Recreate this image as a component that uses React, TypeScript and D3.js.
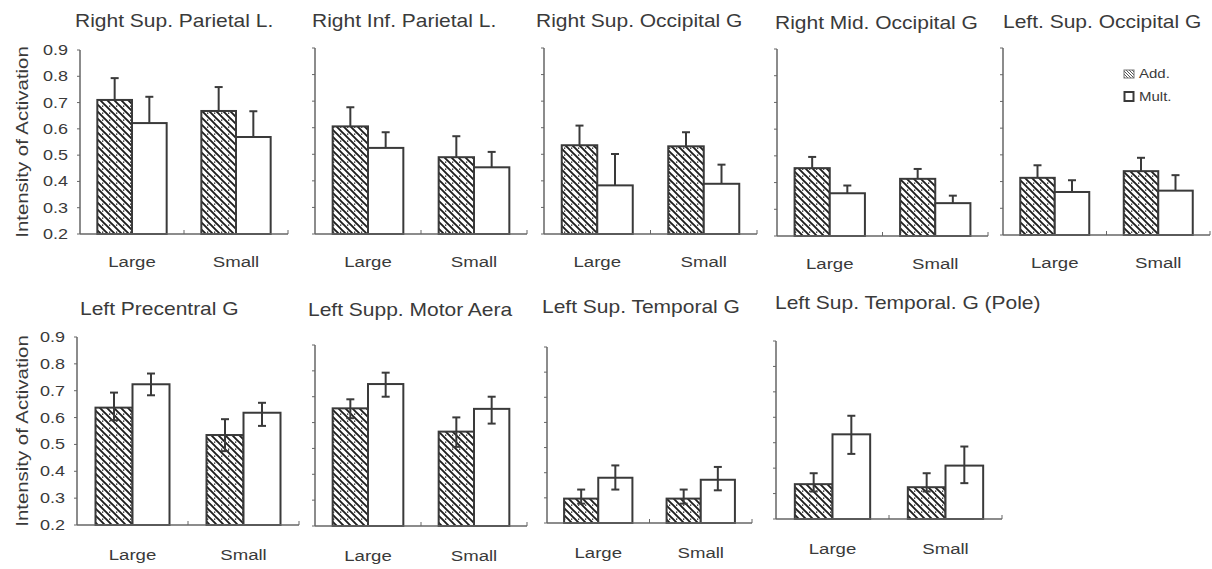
import * as d3 from 'd3';

const categories = ['Large', 'Small'];
const series = ['Add.', 'Mult.'];
const yTicks = [0.2, 0.3, 0.4, 0.5, 0.6, 0.7, 0.8, 0.9];
const yLabel = 'Intensity of Activation';

const regions = [
  'Right Sup. Parietal L.',
  'Right Inf. Parietal L.',
  'Right Sup. Occipital G',
  'Right Mid. Occipital G',
  'Left. Sup. Occipital G',
  'Left Precentral G',
  'Left Supp. Motor Aera',
  'Left Sup. Temporal G',
  'Left Sup. Temporal. G (Pole)',
];

// [Large, Small] for every region
const addMeans = [
  [0.71, 0.668], [0.605, 0.489], [0.534, 0.53], [0.454, 0.414], [0.414, 0.439],
  [0.637, 0.535], [0.655, 0.565], [0.297, 0.297], [0.337, 0.325],
];
const addUpper = [
  [0.793, 0.759], [0.677, 0.568], [0.608, 0.583], [0.496, 0.451], [0.461, 0.489],
  [0.693, 0.594], [0.69, 0.62], [0.333, 0.333], [0.38, 0.38],
];
const addLower = [
  null, null, null, null, null,
  [0.59, 0.475], [0.617, 0.506], [0.277, 0.277], [0.308, 0.308],
];
const multMeans = [
  [0.622, 0.569], [0.524, 0.451], [0.383, 0.389], [0.36, 0.323], [0.361, 0.366],
  [0.724, 0.618], [0.749, 0.653], [0.38, 0.372], [0.533, 0.41],
];
const multUpper = [
  [0.722, 0.667], [0.583, 0.509], [0.501, 0.461], [0.389, 0.351], [0.405, 0.424],
  [0.764, 0.655], [0.793, 0.7], [0.429, 0.423], [0.606, 0.485],
];
const multLower = [
  null, null, null, null, null,
  [0.683, 0.569], [0.7, 0.596], [0.333, 0.33], [0.456, 0.341],
];

// panel frames in page pixels
const frames = [
  { left: 80, right: 288, top: 50, base: 234, titleX: 75 },
  { left: 315, right: 527, top: 48, base: 234, titleX: 312 },
  { left: 544, right: 757, top: 48, base: 234, titleX: 536 },
  { left: 777, right: 988, top: 49, base: 236, titleX: 775 },
  { left: 1003, right: 1210, top: 48, base: 235, titleX: 1003 },
  { left: 77, right: 299, top: 337, base: 525, titleX: 80 },
  { left: 315, right: 527, top: 345, base: 526, titleX: 308 },
  { left: 547, right: 752, top: 347, base: 523, titleX: 542 },
  { left: 776, right: 1002, top: 341, base: 519, titleX: 775 },
];

const FONT = '"Liberation Sans", Arial, Helvetica, sans-serif';
const INK = '#3a3a3a';
const AXIS = '#666';
const SX = 1.2; // glyphs in the source are wider than Arial

const Panel = ({ i }: { i: number }) => {
  const f = frames[i];
  const y = d3.scaleLinear([0.2, 0.9], [f.base, f.top]);
  const x0 = d3.scaleBand(categories, [f.left, f.right]).paddingInner(0).paddingOuter(0);
  const x1 = d3.scaleBand(series, [0, x0.bandwidth()]).paddingInner(0).paddingOuter(0.5);
  const bottomRow = i >= 5;
  const titleY = f.base - (bottomRow ? 210 : 207);
  const showLabels = i === 0 || i === 5;

  const rows = categories.flatMap((c, ci) =>
    series.map((s, si) => {
      const mean = si === 0 ? addMeans[i][ci] : multMeans[i][ci];
      const hi = si === 0 ? addUpper[i][ci] : multUpper[i][ci];
      const loArr = si === 0 ? addLower[i] : multLower[i];
      const lo = loArr ? loArr[ci] : mean;
      return { c, s, si, mean, hi, lo, xb: (x0(c) ?? 0) + (x1(s) ?? 0) };
    })
  );
  const bw = x1.bandwidth();

  return (
    <g>
      <text
        transform={`translate(${f.titleX},${titleY}) scale(${SX},1)`}
        fontSize={17.5}
        fill={INK}
      >
        {regions[i]}
      </text>

      {rows.map((r, k) => (
        <rect
          key={'b' + k}
          x={r.xb}
          y={y(r.mean)}
          width={bw}
          height={f.base - y(r.mean)}
          fill={r.si === 0 ? 'url(#hatch)' : '#fff'}
          stroke={INK}
          strokeWidth={2}
        />
      ))}

      {rows.map((r, k) => {
        const cx = r.xb + bw / 2;
        return (
          <g key={'e' + k} stroke={INK} strokeWidth={2}>
            <line x1={cx} x2={cx} y1={y(r.lo)} y2={y(r.hi)} />
            <line x1={cx - 4} x2={cx + 4} y1={y(r.hi)} y2={y(r.hi)} />
            {bottomRow && <line x1={cx - 4} x2={cx + 4} y1={y(r.lo)} y2={y(r.lo)} />}
          </g>
        );
      })}

      <line x1={f.left} x2={f.left} y1={f.top} y2={f.base} stroke={AXIS} strokeWidth={1.5} />
      <line x1={f.left} x2={f.right} y1={f.base} y2={f.base} stroke={AXIS} strokeWidth={1.5} />
      {yTicks.map((t) => (
        <line key={'yt' + t} x1={f.left - 3} x2={f.left} y1={y(t)} y2={y(t)} stroke={AXIS} strokeWidth={1} />
      ))}
      {categories.map((c) => {
        const xe = (x0(c) ?? 0) + x0.bandwidth();
        return <line key={'xt' + c} x1={xe} x2={xe} y1={f.base} y2={f.base - 4} stroke={AXIS} strokeWidth={1} />;
      })}

      {showLabels &&
        yTicks.map((t) => (
          <text
            key={'yl' + t}
            transform={`translate(${f.left - 12},${y(t) + 5}) scale(${SX},1)`}
            textAnchor="end"
            fontSize={15}
            fill={INK}
          >
            {t.toFixed(1)}
          </text>
        ))}
      {showLabels && (
        <text
          transform={`translate(28,${(f.top + f.base) / 2}) rotate(-90) scale(${SX},1)`}
          textAnchor="middle"
          fontSize={17}
          fill={INK}
        >
          {yLabel}
        </text>
      )}

      {categories.map((c) => (
        <text
          key={'xl' + c}
          transform={`translate(${(x0(c) ?? 0) + x0.bandwidth() / 2},${f.base + (bottomRow ? 35 : 33)}) scale(${SX},1)`}
          textAnchor="middle"
          fontSize={15.5}
          fill={INK}
        >
          {c}
        </text>
      ))}
    </g>
  );
};

const Legend = () => {
  const f = frames[4];
  const lx = f.left + 121;
  const ly = f.top + 22;
  return (
    <g fontSize={12.5} fill={INK}>
      <rect x={lx} y={ly} width={10} height={8} fill="url(#hatchSmall)" stroke="#777" strokeWidth={1} />
      <text transform={`translate(${lx + 15},${ly + 8}) scale(${SX},1)`}>{series[0]}</text>
      <rect x={lx + 0.5} y={ly + 22} width={9} height={9} fill="#fff" stroke={INK} strokeWidth={2} />
      <text transform={`translate(${lx + 15},${ly + 31}) scale(${SX},1)`}>{series[1]}</text>
    </g>
  );
};

export default function App() {
  return (
    <svg
      width={1212}
      height={569}
      style={{ position: 'absolute', left: 0, top: 0, background: '#fff' }}
      fontFamily={FONT}
    >
      <defs>
        <pattern id="hatch" patternUnits="userSpaceOnUse" width={7} height={7}>
          <rect width={7} height={7} fill="#fff" />
          <path d="M-1,-1 L8,8 M-1,6 L1,8 M6,-1 L8,1" stroke="#1e1e1e" strokeWidth={1.9} />
          <rect x={4} y={0.5} width={1.3} height={1.3} fill="#1e1e1e" />
        </pattern>
        <pattern id="hatchSmall" patternUnits="userSpaceOnUse" width={3} height={3}>
          <rect width={3} height={3} fill="#fff" />
          <path d="M-1,-1 L4,4 M-1,2 L1,4 M2,-1 L4,1" stroke="#555" strokeWidth={1} />
        </pattern>
      </defs>
      <rect width={1212} height={569} fill="#fff" />
      {regions.map((_, i) => (
        <Panel key={i} i={i} />
      ))}
      <Legend />
    </svg>
  );
}
